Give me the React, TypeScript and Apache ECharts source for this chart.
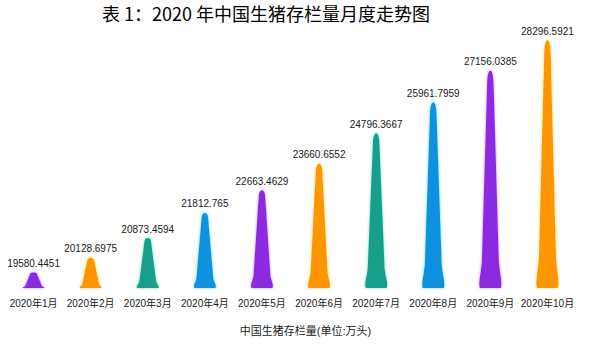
import React, { useEffect, useRef } from "react";
import * as echarts from "echarts";

const categories = [
  "2020年1月", "2020年2月", "2020年3月", "2020年4月", "2020年5月",
  "2020年6月", "2020年7月", "2020年8月", "2020年9月", "2020年10月",
];
const values = [
  19580.4451, 20128.6975, 20873.4594, 21812.765, 22663.4629,
  23660.6552, 24796.3667, 25961.7959, 27156.0385, 28296.5921,
];
const labels = [
  "19580.4451", "20128.6975", "20873.4594", "21812.765", "22663.4629",
  "23660.6552", "24796.3667", "25961.7959", "27156.0385", "28296.5921",
];
const palette = ["#8B2BE0", "#FF9500", "#15A08C", "#0B92DF"];
const glow = ["#C58CF5", "#FFD84A", "#6ED8C4", "#5FD4FF"];
const axisMin = 19000;

const shapeD =
  "M6,100 Q0,100 3,96 Q9,92 13,88 L36,6 C38,-2 62,-2 64,6 L87,88 Q91,92 97,96 Q100,100 94,100 Z";

export default function App() {
  const ref = useRef<HTMLDivElement>(null);
  useEffect(() => {
    if (!ref.current) return;
    const chart = echarts.init(ref.current, null, { renderer: "svg" });
    const font = 'Arial, "Liberation Sans", "Noto Sans CJK SC", sans-serif';
    chart.setOption({
      animation: false,
      backgroundColor: "#ffffff",
      title: {
        text: "表 1：2020 年中国生猪存栏量月度走势图",
        left: 97,
        top: -1,
        textStyle: {
          fontFamily: '"Noto Sans CJK SC", sans-serif',
          fontSize: 18,
          fontWeight: "normal",
          color: "#000",
        },
      },
      grid: { left: 5, right: 14, top: 40, bottom: 58, containLabel: false },
      xAxis: {
        type: "category",
        data: categories,
        axisLine: { show: false },
        axisTick: { show: false },
        axisLabel: { color: "#1a1a1a", fontSize: 10, margin: 10, fontFamily: font, interval: 0 },
        name: "中国生猪存栏量(单位:万头)",
        nameLocation: "middle",
        nameGap: 37,
        nameTextStyle: { color: "#1a1a1a", fontSize: 11, fontFamily: font, padding: [0, 0, 0, 30] },
      },
      yAxis: {
        type: "value",
        min: axisMin,
        max: "dataMax",
        show: false,
        splitLine: { show: false },
      },
      series: [
        {
          type: "custom",
          encode: { x: 0, y: 1 },
          data: values.map((v, i) => [i, v]),
          renderItem: (params: any, api: any) => {
            const i = api.value(0);
            const top = api.coord([i, api.value(1)]);
            const base = api.coord([i, axisMin]);
            const cx = top[0];
            const h = base[1] - top[1];
            return {
              type: "group",
              children: [
                {
                  type: "path",
                  shape: {
                    pathData: shapeD,
                    x: cx - 11,
                    y: top[1],
                    width: 22,
                    height: h,
                    layout: "cover",
                  },
                  style: {
                    fill: palette[i % 4],
                    shadowColor: glow[i % 4],
                    shadowBlur: 3,
                  },
                },
                {
                  type: "text",
                  style: {
                    text: labels[i],
                    x: cx,
                    y: top[1] - 4,
                    align: "center",
                    verticalAlign: "bottom",
                    fontSize: 10,
                    fontFamily: font,
                    fill: "#1a1a1a",
                  },
                },
              ],
            };
          },
        },
      ],
    });
    return () => chart.dispose();
  }, []);
  return (
    <div
      ref={ref}
      style={{ position: "fixed", left: 0, top: 0, width: 590, height: 346 }}
    />
  );
}
